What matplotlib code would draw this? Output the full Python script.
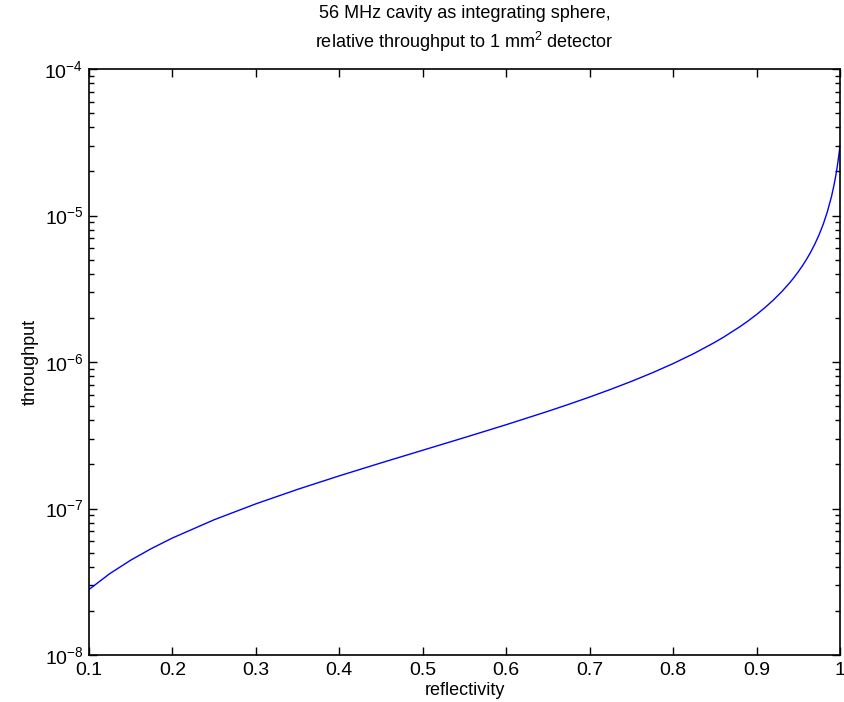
import matplotlib
matplotlib.use('Agg')
import matplotlib.pyplot as plt
from matplotlib.ticker import LogLocator, NullFormatter

plt.rcParams['font.family'] = ['Liberation Sans', 'DejaVu Sans']
plt.rcParams['mathtext.fontset'] = 'custom'
plt.rcParams['mathtext.rm'] = 'Liberation Sans'
plt.rcParams['mathtext.it'] = 'Liberation Sans'
plt.rcParams['mathtext.default'] = 'regular'
plt.rcParams['axes.unicode_minus'] = False

# values
reflectivity = [0.10, 0.125, 0.15, 0.175, 0.20, 0.25, 0.30, 0.35, 0.40, 0.45,
                0.50, 0.55, 0.60, 0.65, 0.675, 0.70, 0.725, 0.75, 0.775, 0.80,
                0.825, 0.85, 0.86, 0.88, 0.89, 0.90, 0.91, 0.92, 0.93, 0.94,
                0.945, 0.95, 0.955, 0.96, 0.965, 0.97, 0.975, 0.98, 0.985,
                0.99, 0.993, 0.995, 0.997, 0.999, 1.0]
throughput = [2.80e-8, 3.596e-8, 4.44e-8, 5.336e-8, 6.29e-8, 8.38e-8, 1.076e-7,
              1.351e-7, 1.671e-7, 2.048e-7, 2.499e-7, 3.049e-7, 3.733e-7,
              4.608e-7, 5.144e-7, 5.767e-7, 6.500e-7, 7.374e-7, 8.436e-7,
              9.752e-7, 1.143e-6, 1.363e-6, 1.472e-6, 1.741e-6, 1.909e-6,
              2.109e-6, 2.349e-6, 2.643e-6, 3.012e-6, 3.489e-6, 3.784e-6,
              4.129e-6, 4.539e-6, 5.033e-6, 5.641e-6, 6.408e-6, 7.403e-6,
              8.748e-6, 1.067e-5, 1.362e-5, 1.631e-5, 1.877e-5, 2.210e-5,
              2.684e-5, 3.0e-5]

x_ticks = [0.1, 0.2, 0.3, 0.4, 0.5, 0.6, 0.7, 0.8, 0.9, 1.0]
x_tick_labels = ['0.1', '0.2', '0.3', '0.4', '0.5', '0.6', '0.7', '0.8', '0.9', '1']

fig = plt.figure(figsize=(8.44, 7.02), dpi=100)
ax = fig.add_axes([89 / 844, 47 / 702, 751 / 844, 586 / 702])

ax.plot(reflectivity, throughput, color='#0000ff', lw=1.0)
ax.set_yscale('log')
ax.set_xlim(0.1, 1.0)
ax.set_ylim(1e-8, 1e-4)

ax.set_xticks(x_ticks)
ax.set_xticklabels(x_tick_labels)
ax.yaxis.set_major_locator(LogLocator(base=10, numticks=10))
ax.yaxis.set_minor_locator(LogLocator(base=10, subs=range(2, 10), numticks=20))
ax.yaxis.set_minor_formatter(NullFormatter())

ax.tick_params(which='both', direction='in', top=True, right=True,
               labelsize=14, width=1.0)
ax.tick_params(which='major', length=6, pad=4)
ax.tick_params(axis='x', which='major', pad=5)
ax.tick_params(which='minor', length=3.5)
for s in ax.spines.values():
    s.set_linewidth(1.2)

ax.set_xlabel('reflectivity', fontsize=13, labelpad=2)
ax.set_ylabel('throughput', fontsize=13, labelpad=4)
ax.set_title('56 MHz cavity as integrating sphere,\n'
             'relative throughput to 1 mm$^2$ detector', fontsize=13,
             linespacing=1.45, pad=15)

fig.savefig('out.png', dpi=100)
